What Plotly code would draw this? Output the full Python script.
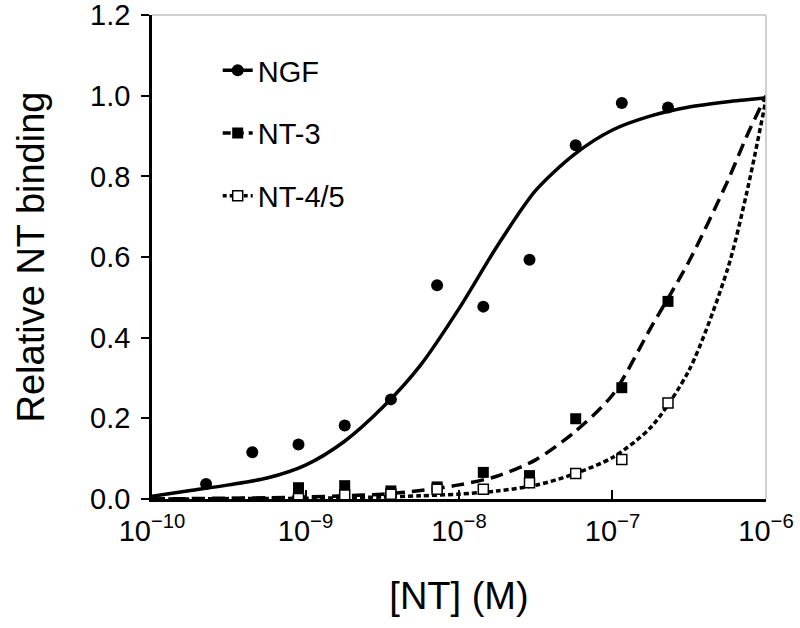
import plotly.graph_objects as go

# ---- measured data points ----
conc_ngf = [2.25e-10, 4.5e-10, 9e-10, 1.8e-9, 3.6e-9, 7.2e-9, 1.44e-8, 2.88e-8, 5.76e-8, 1.15e-7, 2.3e-7]
ngf_vals = [0.037, 0.116, 0.135, 0.182, 0.247, 0.530, 0.477, 0.593, 0.877, 0.982, 0.971]

conc_nt = [9e-10, 1.8e-9, 3.6e-9, 7.2e-9, 1.44e-8, 2.88e-8, 5.76e-8, 1.15e-7, 2.3e-7]
nt3_vals = [0.028, 0.033, 0.020, 0.030, 0.066, 0.058, 0.199, 0.276, 0.490]
nt45_vals = [0.001, 0.010, 0.012, 0.024, 0.024, 0.040, 0.063, 0.098, 0.238]

# ---- fitted curves ----
curve_x = [1e-10, 1.78e-10, 3.16e-10, 5.62e-10, 1e-9, 1.78e-9, 3.16e-9, 5.62e-9,
           1e-8, 1.78e-8, 3.16e-8, 5.62e-8, 1e-7, 1.78e-7, 3.16e-7, 5.62e-7, 7.5e-7, 1e-6]
ngf_curve = [0.007, 0.021, 0.035, 0.052, 0.084, 0.142, 0.226, 0.332,
             0.472, 0.628, 0.765, 0.854, 0.915, 0.95, 0.972, 0.985, 0.99, 0.995]
nt3_curve = [0.0, 0.001, 0.002, 0.003, 0.005, 0.008, 0.012, 0.021,
             0.035, 0.057, 0.097, 0.165, 0.258, 0.425, 0.59, 0.788, 0.90, 1.0]
nt45_curve = [0.0, 0.0, 0.001, 0.001, 0.002, 0.003, 0.005, 0.008,
              0.012, 0.02, 0.034, 0.062, 0.103, 0.178, 0.32, 0.57, 0.76, 0.99]

names = ["NGF", "NT-3", "NT-4/5"]

x_tickvals = [1e-10, 1e-9, 1e-8, 1e-7, 1e-6]
x_ticktext = ["10<sup>\u221210</sup>", "10<sup>\u22129</sup>", "10<sup>\u22128</sup>",
              "10<sup>\u22127</sup>", "10<sup>\u22126</sup>"]
x_minor = [2e-10, 3e-10, 4e-10, 5e-10, 6e-10, 7e-10, 8e-10, 9e-10,
           2e-9, 3e-9, 4e-9, 5e-9, 6e-9, 7e-9, 8e-9, 9e-9,
           2e-8, 3e-8, 4e-8, 5e-8, 6e-8, 7e-8, 8e-8, 9e-8,
           2e-7, 3e-7, 4e-7, 5e-7, 6e-7, 7e-7, 8e-7, 9e-7]
y_tickvals = [0, 0.2, 0.4, 0.6, 0.8, 1.0, 1.2]

FONT = "Liberation Sans, Arial, Helvetica, sans-serif"
LW = 3.5
dash_nt3 = "13px,7px"
dash_nt45 = "5px,3px"

fig = go.Figure()

# curves
fig.add_trace(go.Scatter(x=curve_x, y=ngf_curve, mode="lines",
                         line=dict(color="black", width=LW, shape="spline", smoothing=0.8),
                         showlegend=False, hoverinfo="skip"))
fig.add_trace(go.Scatter(x=curve_x, y=nt3_curve, mode="lines",
                         line=dict(color="black", width=LW, shape="spline", smoothing=0.8, dash=dash_nt3),
                         showlegend=False, hoverinfo="skip"))
fig.add_trace(go.Scatter(x=curve_x, y=nt45_curve, mode="lines",
                         line=dict(color="black", width=LW, shape="spline", smoothing=0.8, dash=dash_nt45),
                         showlegend=False, hoverinfo="skip"))

# points
fig.add_trace(go.Scatter(x=conc_ngf, y=ngf_vals, mode="markers",
                         marker=dict(symbol="circle", size=12, color="black"), showlegend=False))
fig.add_trace(go.Scatter(x=conc_nt, y=nt3_vals, mode="markers",
                         marker=dict(symbol="square", size=11, color="black"), showlegend=False))
fig.add_trace(go.Scatter(x=conc_nt, y=nt45_vals, mode="markers",
                         marker=dict(symbol="square", size=10, color="white", line=dict(color="black", width=1.5)),
                         showlegend=False))

# legend entries
leg_styles = [
    dict(line=dict(color="black", width=LW), marker=dict(symbol="circle", size=12, color="black")),
    dict(line=dict(color="black", width=LW, dash="8px,5px"), marker=dict(symbol="square", size=11, color="black")),
    dict(line=dict(color="black", width=LW, dash="4px,3px"), marker=dict(symbol="square", size=10, color="white",
                                                                        line=dict(color="black", width=1.5))),
]
for nm, st in zip(names, leg_styles):
    fig.add_trace(go.Scatter(x=[None], y=[None], mode="lines+markers", name=nm, legendgroup=nm, **st))

XR = [-10.0002, -5.9998]

fig.update_layout(
    width=800, height=628,
    margin=dict(l=152, r=34, t=15, b=129),
    paper_bgcolor="white", plot_bgcolor="white",
    font=dict(family=FONT, size=29, color="black"),
    showlegend=True,
    legend=dict(x=0.107, y=0.938, xanchor="left", yanchor="top", bgcolor="rgba(0,0,0,0)",
                font=dict(size=29), tracegroupgap=22, traceorder="grouped"),
    xaxis=dict(type="log", range=XR, tickvals=x_tickvals, ticktext=x_ticktext,
               showline=True, linecolor="black", linewidth=2.5, ticks="inside", ticklen=9, tickwidth=2,
               tickcolor="black", showgrid=False, zeroline=False, automargin=False, ticklabelstandoff=4,
               ticklabeloverflow="allow",
               title=dict(text="[NT] (M)", font=dict(size=38), standoff=37)),
    xaxis2=dict(type="log", range=XR, tickvals=x_tickvals,
                overlaying="x", anchor="y", side="bottom",
                ticks="outside", ticklen=9, tickwidth=2, tickcolor="black", showticklabels=False,
                showline=False, showgrid=False, zeroline=False, automargin=False),
    xaxis3=dict(type="log", range=XR, overlaying="x", anchor="y", side="bottom",
                tickvals=x_minor,
                ticks="inside", ticklen=6, tickwidth=1.5, tickcolor="black", showticklabels=False,
                showline=False, showgrid=False, zeroline=False, automargin=False),
    yaxis=dict(range=[0, 1.2001], tickvals=y_tickvals, tickformat=".1f",
               showline=True, linecolor="black", linewidth=2.5,
               ticks="outside", ticklen=8, tickwidth=2, tickcolor="black", showgrid=False, zeroline=False,
               automargin=False, ticklabelstandoff=5, ticklabeloverflow="allow",
               title=dict(text="Relative NT binding", font=dict(size=38), standoff=34)),
    shapes=[
        dict(type="line", xref="paper", yref="paper", x0=0, x1=1, y0=1, y1=1, line=dict(color="#c0c0c0", width=1.5)),
        dict(type="line", xref="paper", yref="paper", x0=1, x1=1, y0=0, y1=1, line=dict(color="#c0c0c0", width=1.5)),
    ],
)

fig.write_html("out.html", config={"displayModeBar": False},
               post_script="document.body.style.margin='0px';document.body.style.overflow='hidden';")
